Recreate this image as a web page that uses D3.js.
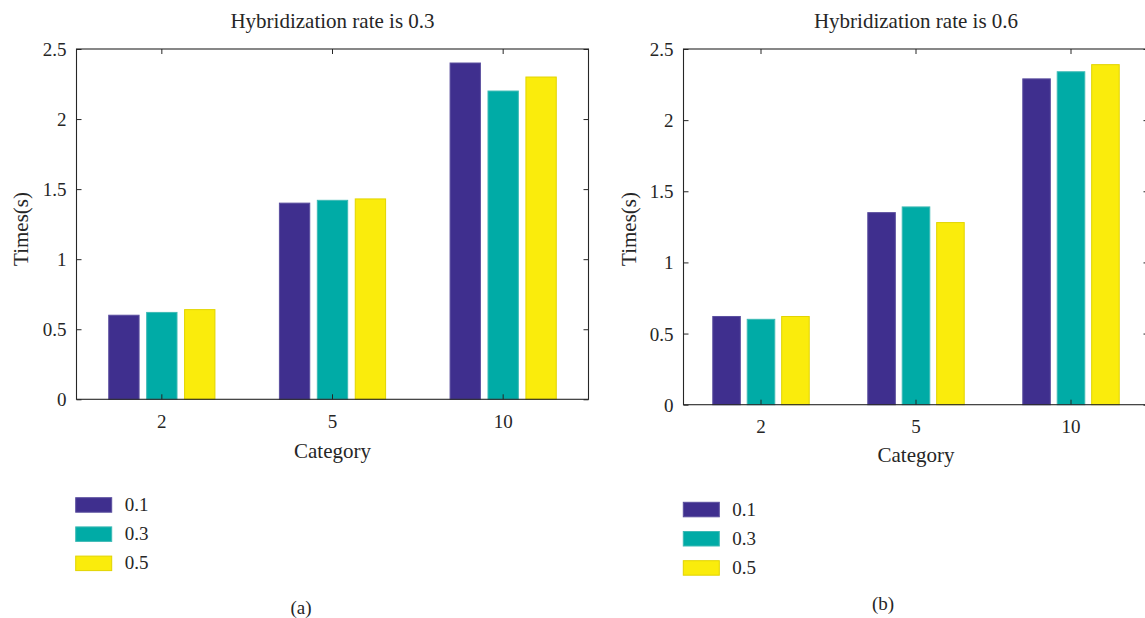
<!DOCTYPE html>
<html>
<head>
<meta charset="utf-8">
<script src="https://cdn.jsdelivr.net/npm/d3@7/dist/d3.min.js"></script>
<style>
  html, body { margin: 0; padding: 0; background: #fff; }
  svg { display: block; font-family: "Liberation Serif", "Times New Roman", serif; }
</style>
</head>
<body>
<svg id="fig" width="1145" height="618"></svg>
<script>
// Group categories and the three series shown in each panel
const categories = ["2", "5", "10"];
const seriesNames = ["0.1", "0.3", "0.5"];
const seriesColors = ["#3f2f8e", "#00aba6", "#faec0c"];
const seriesEdges = ["#5b4f9f", "#3dbab5", "#e2d400"];
const yTicks = [0, 0.5, 1, 1.5, 2, 2.5];

// Panel (a): hybridization rate 0.3
const rate03_s01 = [0.60, 1.40, 2.40];
const rate03_s03 = [0.62, 1.42, 2.20];
const rate03_s05 = [0.64, 1.43, 2.30];

// Panel (b): hybridization rate 0.6
const rate06_s01 = [0.62, 1.35, 2.29];
const rate06_s03 = [0.60, 1.39, 2.34];
const rate06_s05 = [0.62, 1.28, 2.39];

const svg = d3.select("#fig");
const ink = "#262626";

function drawPanel(cfg) {
  const { x0, x1, y0, y1, title, series, legend, caption } = cfg;
  const g = svg.append("g");

  const x = d3.scaleBand().domain(categories).range([x0, x1])
    .paddingInner(1 / 3).paddingOuter(1 / 6);
  const xs = d3.scaleBand().domain(seriesNames).range([0, x.bandwidth()])
    .paddingInner(0.2).paddingOuter(0.1);
  const y = d3.scaleLinear().domain([0, 2.5]).range([y1, y0]);

  // bars
  seriesNames.forEach((s, j) => {
    g.append("g").selectAll("rect")
      .data(series[j].map((v, i) => ({ cat: categories[i], v })))
      .join("rect")
      .attr("x", d => x(d.cat) + xs(s))
      .attr("width", xs.bandwidth())
      .attr("y", d => y(d.v))
      .attr("height", d => y(0) - y(d.v))
      .attr("fill", seriesColors[j])
      .attr("stroke", seriesEdges[j])
      .attr("stroke-width", 1);
  });

  // axes with inward ticks on all four sides
  const left = g.append("g").attr("transform", `translate(${x0},0)`)
    .call(d3.axisLeft(y).tickValues(yTicks).tickFormat(d => String(d))
      .tickSizeInner(-5).tickSizeOuter(0).tickPadding(10));
  const right = g.append("g").attr("transform", `translate(${x1},0)`)
    .call(d3.axisRight(y).tickValues(yTicks).tickFormat("")
      .tickSizeInner(-5).tickSizeOuter(0));
  const bottom = g.append("g").attr("transform", `translate(0,${y1})`)
    .call(d3.axisBottom(x).tickSizeInner(-5).tickSizeOuter(0).tickPadding(0));
  const top = g.append("g").attr("transform", `translate(0,${y0})`)
    .call(d3.axisTop(x).tickFormat("").tickSizeInner(-5).tickSizeOuter(0));

  [left, right, bottom, top].forEach(a => {
    a.select(".domain").remove();
    a.selectAll("line").attr("stroke", ink);
    a.selectAll("text").attr("fill", ink).attr("font-size", 19)
      .attr("font-family", "Liberation Serif, serif");
  });
  left.selectAll("text").attr("dy", "0.34em");
  bottom.selectAll("text").attr("dy", null).attr("y", cfg.xTickBase);

  // frame
  g.append("rect").attr("x", x0).attr("y", y0)
    .attr("width", x1 - x0).attr("height", y1 - y0)
    .attr("fill", "none").attr("stroke", ink).attr("stroke-width", 1.1);

  // title and axis labels
  g.append("text").attr("x", (x0 + x1) / 2).attr("y", 28)
    .attr("text-anchor", "middle").attr("font-size", 21).attr("fill", ink)
    .text(title);
  g.append("text").attr("x", (x0 + x1) / 2).attr("y", cfg.xLabelBase)
    .attr("text-anchor", "middle").attr("font-size", 21).attr("fill", ink)
    .text("Category");
  g.append("text")
    .attr("transform", `translate(${cfg.yLabelX},229) rotate(-90)`)
    .attr("text-anchor", "middle").attr("font-size", 21).attr("fill", ink)
    .text("Times(s)");

  // legend
  const lg = g.append("g");
  seriesNames.forEach((s, j) => {
    const ty = legend.y + j * 29.2;
    lg.append("rect").attr("x", legend.x).attr("y", ty)
      .attr("width", 36).attr("height", 14.5)
      .attr("fill", seriesColors[j]).attr("stroke", seriesEdges[j]).attr("stroke-width", 1);
    lg.append("text").attr("x", legend.x + 49).attr("y", ty + 13.2)
      .attr("font-size", 19).attr("fill", ink).text(s);
  });

  // sub-figure caption
  g.append("text").attr("x", caption.x).attr("y", caption.y)
    .attr("text-anchor", "middle").attr("font-size", 19).attr("fill", ink)
    .text(caption.text);
}

drawPanel({
  x0: 76.5, x1: 588.5, y0: 49, y1: 399.3,
  title: "Hybridization rate is 0.3",
  series: [rate03_s01, rate03_s03, rate03_s05],
  xTickBase: 28.5, xLabelBase: 458, yLabelX: 28,
  legend: { x: 75.7, y: 497.7 },
  caption: { x: 301, y: 614, text: "(a)" }
});

drawPanel({
  x0: 683.5, x1: 1148.5, y0: 49, y1: 404.7,
  title: "Hybridization rate is 0.6",
  series: [rate06_s01, rate06_s03, rate06_s05],
  xTickBase: 28, xLabelBase: 462, yLabelX: 636,
  legend: { x: 683.3, y: 502.3 },
  caption: { x: 883, y: 610, text: "(b)" }
});
</script>
</body>
</html>
